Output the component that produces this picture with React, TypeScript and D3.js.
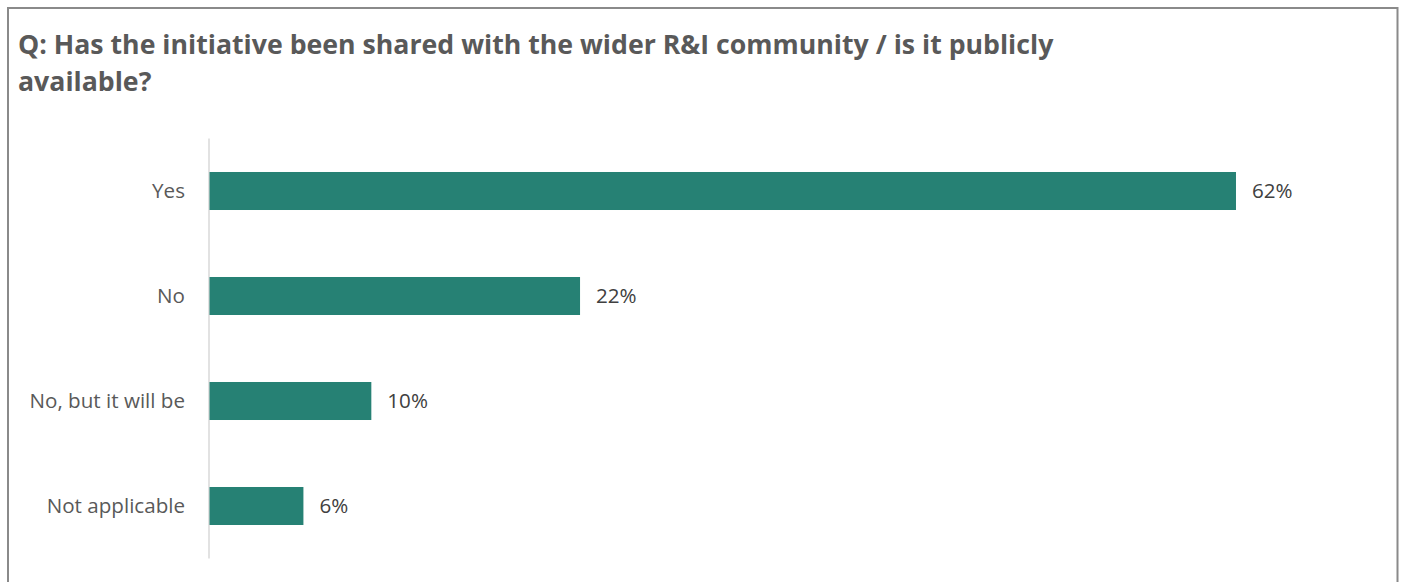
import React from "react";
import * as d3 from "d3";

const categories = ["Yes", "No", "No, but it will be", "Not applicable"];
const values = [62.0, 22.4, 9.8, 5.7];
const titleLines = [
  "Q: Has the initiative been shared with the wider R&I community / is it publicly",
  "available?",
];

const W = 1403;
const H = 582;

export default function App() {
  const x0 = 209;
  const y = d3.scaleBand<string>().domain(categories).range([138.5, 558.5]).paddingInner(0.638).paddingOuter(0.319);
  const x = d3.scaleLinear().domain([0, 70]).range([x0, x0 + 1159.5]);
  const font = "'Open Sans', 'Noto Sans', sans-serif";
  return (
    <svg width={W} height={H} style={{ position: "absolute", left: 0, top: 0 }}>
      <rect x={0} y={0} width={W} height={H} fill="#fff" />
      <path d="M8,590 V8 H1397.5 V590" fill="none" stroke="#8a8a8a" strokeWidth={2} />
      {titleLines.map((t, i) => (
        <text key={i} x={18} y={54 + i * 37} fontFamily={font} fontWeight={700} fontSize={26.7} fill="#595959">
          {t}
        </text>
      ))}
      <line x1={x0} x2={x0} y1={138.5} y2={558.5} stroke="#d9d9d9" strokeWidth={1.5} />
      {categories.map((c, i) => {
        const yy = y(c)!;
        const bw = y.bandwidth();
        return (
          <g key={c}>
            <rect x={x(0) + 0.5} y={yy} width={x(values[i]) - x(0) - 0.5} height={bw} fill="#268174" />
            <text x={185} y={yy + bw / 2} dy="0.35em" textAnchor="end" fontFamily={font} fontSize={20.6} fill="#595959">
              {c}
            </text>
            <text x={x(values[i]) + 16} y={yy + bw / 2} dy="0.35em" fontFamily={font} fontSize={20.6} fill="#404040">
              {Math.round(values[i]) + "%"}
            </text>
          </g>
        );
      })}
    </svg>
  );
}
